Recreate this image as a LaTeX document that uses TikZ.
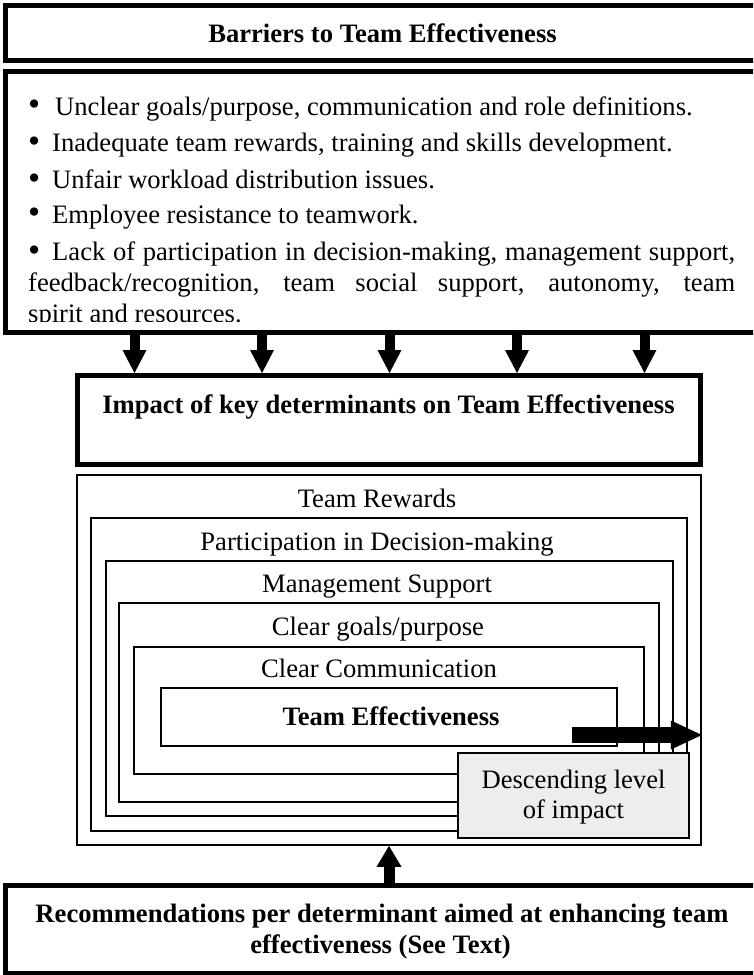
\documentclass[tikz,border=0pt]{standalone}
\usepackage{fontspec}
\setmainfont{Liberation Serif}
\usetikzlibrary{arrows.meta}
\newcommand{\bigbullet}{\raisebox{-0.08ex}{\scalebox{1.3}{\textbullet}}}
\begin{document}
\begin{tikzpicture}[x=1pt,y=-1pt,
  font=\fontsize{26.6pt}{31pt}\selectfont,
  thickbox/.style={draw,line width=5pt,inner sep=0pt},
  thinbox/.style={draw,line width=1.8pt,inner sep=0pt},
  descbox/.style={draw,line width=1.8pt,inner sep=0pt,fill=black!7},
  txt/.style={inner sep=0pt,anchor=base},
  ltxt/.style={inner sep=0pt,anchor=base west},
  downarrow/.style={line width=10pt,-{Triangle[length=23pt,width=24pt,line width=0pt]}},
  uparrow/.style={line width=11pt,-{Triangle[length=21pt,width=25pt,line width=0pt]}},
  bigarrow/.style={line width=16pt,-{Triangle[length=31pt,width=29pt,line width=0pt]}}]
\useasboundingbox (0,0) rectangle (753,975);
\clip (0,0) rectangle (753,975);

% top boxes
\node[thickbox,minimum width=754pt,minimum height=55.5pt] (b1) at (382.5,32.75) {};
\node[txt] (t1) at (382.5,42) {\bfseries Barriers to Team Effectiveness};

\node[thickbox,minimum width=754pt,minimum height=260.5pt] (b2) at (382.5,201.75) {};
\node[ltxt] (l1) at (28,115) {\makebox[27pt][l]{\bigbullet}Unclear goals/purpose, communication and role definitions.};
\node[ltxt] (l2) at (28,151.7) {\makebox[24pt][l]{\bigbullet}Inadequate team rewards, training and skills development.};
\node[ltxt] (l3) at (28,188.3) {\makebox[24pt][l]{\bigbullet}Unfair workload distribution issues.};
\node[ltxt] (l4) at (28,223) {\makebox[24pt][l]{\bigbullet}Employee resistance to teamwork.};
\node[ltxt] (l5) at (28,260.7) {\makebox[707pt][s]{\makebox[24pt][l]{\bigbullet}Lack of participation in decision-making, management support,}};
\node[ltxt] (l6) at (28,291.7) {\makebox[707pt][s]{feedback/recognition, team social support, autonomy, team}};
\begin{scope}
\clip (0,0) rectangle (753,321.5);
\node[ltxt] (l7) at (28,322.7) {spirit and resources.};
\end{scope}

% impact box
\node[thickbox,minimum width=623pt,minimum height=89pt] (b3) at (389,420) {};
\node[txt] (t3) at (388.5,413) {\bfseries Impact of key determinants on Team Effectiveness};

% arrows from barriers to impact
\foreach \i/\xx in {1/134.5,2/262,3/389.5,4/517,5/644.5}{
  \coordinate (ax\i) at (\xx,0);
  \draw[downarrow] (b2.south -| ax\i) -- (b3.north -| ax\i);
}

% nested boxes
\node[thinbox,minimum width=624pt,minimum height=370pt] (b4) at (389,660) {};
\node[thinbox,minimum width=596pt,minimum height=313pt] (b5) at (389,674.5) {};
\node[thinbox,minimum width=567pt,minimum height=255pt] (b6) at (389.5,688.5) {};
\node[thinbox,minimum width=540pt,minimum height=199pt] (b7) at (389,702.5) {};
\node[thinbox,minimum width=510pt,minimum height=127pt] (b8) at (389,710.5) {};
\node[thinbox,minimum width=456pt,minimum height=58pt] (b9) at (389,717) {};

\node[txt] (n4) at (377,507) {Team Rewards};
\node[txt] (n5) at (377,550) {Participation in Decision-making};
\node[txt] (n6) at (377,592) {Management Support};
\node[txt] (n7) at (378,635) {Clear goals/purpose};
\node[txt] (n8) at (379,677) {Clear Communication};
\node[txt] (n9) at (391,725) {\bfseries Team Effectiveness};

\node[descbox,minimum width=231pt,minimum height=85pt] (bd) at (573.5,795.5) {};
\node[txt] (d1) at (573.5,788) {Descending level};
\node[txt] (d2) at (573.5,818) {of impact};

\coordinate (bigstart) at (571.5,735);
\draw[bigarrow] (bigstart) -- (bigstart -| b4.east);

% recommendations box
\node[thickbox,minimum width=754pt,minimum height=87.5pt] (b10) at (382.5,929.25) {};
\node[txt] (r1) at (382,922) {\bfseries Recommendations per determinant aimed at enhancing team};
\node[txt] (r2) at (380.5,953) {\bfseries effectiveness (See Text)};

\coordinate (xm) at (389,0);
\draw[uparrow] (b10.north -| xm) -- (b4.south -| xm);
\end{tikzpicture}
\end{document}
